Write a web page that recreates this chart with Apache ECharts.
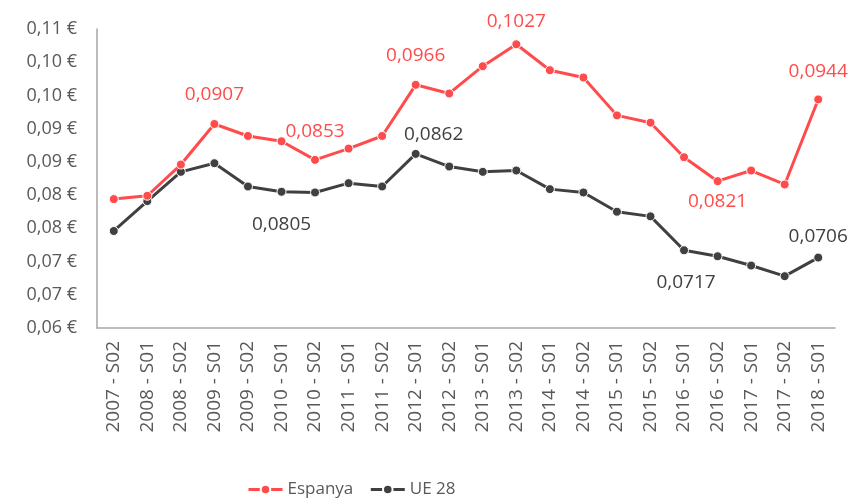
<!DOCTYPE html>
<html>
<head>
<meta charset="utf-8">
<script src="https://cdn.jsdelivr.net/npm/echarts@6/dist/echarts.min.js"></script>
<style>
html,body{margin:0;padding:0;background:#fff;}
#chart{width:851px;height:499px;}
</style>
</head>
<body>
<div id="chart"></div>
<script>
const categories = ['2007 - S02','2008 - S01','2008 - S02','2009 - S01','2009 - S02','2010 - S01','2010 - S02','2011 - S01','2011 - S02','2012 - S01','2012 - S02','2013 - S01','2013 - S02','2014 - S01','2014 - S02','2015 - S01','2015 - S02','2016 - S01','2016 - S02','2017 - S01','2017 - S02','2018 - S01'];
const espanya = [0.0794,0.0799,0.0846,0.0907,0.0889,0.0881,0.0853,0.0870,0.0889,0.0966,0.0953,0.0994,0.1027,0.0988,0.0977,0.0920,0.0909,0.0857,0.0821,0.0837,0.0816,0.0944];
const ue28 = [0.0746,0.0791,0.0835,0.0848,0.0813,0.0805,0.0804,0.0818,0.0813,0.0862,0.0843,0.0835,0.0837,0.0809,0.0804,0.0775,0.0768,0.0717,0.0708,0.0694,0.0678,0.0706];
const yTickLabels = ['0,06 €','0,07 €','0,07 €','0,08 €','0,08 €','0,09 €','0,09 €','0,10 €','0,10 €','0,11 €'];
const seriesNames = ['Espanya','UE 28'];

// label placement (layout only): index -> [dx, dy] pixel offset from the point
const espLabelPos = {3:[0,-29],6:[0,-28],9:[0,-29],12:[0,-23],18:[0,20],21:[0,-28]};
const ueLabelPos = {5:[0,33],9:[18,-19],17:[2,32],21:[0,-21]};

const RED = '#FF4B4B';
const DARK = '#404040';
const TEXT = '#595959';
const FONT = 'Open Sans';

function fmt(v){ return v.toFixed(4).replace('.', ','); }
function buildData(values, posMap, color){
  return values.map((v,i)=>{
    if(!posMap[i]) return v;
    return {value:v, label:{show:true, position:['50%','50%'], align:'center', verticalAlign:'middle',
      offset:posMap[i], color:color, fontSize:19, fontFamily:FONT, formatter:p=>fmt(p.value)}};
  });
}

const chart = echarts.init(document.getElementById('chart'), null, {renderer:'canvas'});
chart.setOption({
  animation:false,
  backgroundColor:'#fff',
  grid:{left:97,right:16,top:29,bottom:171,containLabel:false},
  legend:{
    left:242, top:476, itemWidth:34, itemHeight:12, itemGap:16,
    lineStyle:{width:3},
    textStyle:{fontFamily:FONT,fontSize:17,color:TEXT},
    data:seriesNames
  },
  xAxis:{
    type:'category', data:categories, boundaryGap:true,
    axisLine:{show:true,lineStyle:{color:'#A6A6A6',width:1.5}},
    axisTick:{show:false},
    axisLabel:{rotate:90, margin:13, fontFamily:FONT, fontSize:19, color:TEXT, interval:0}
  },
  yAxis:{
    type:'value', min:0.06, max:0.105, interval:0.005,
    splitLine:{show:false},
    axisLine:{show:true,lineStyle:{color:'#A6A6A6',width:1.5}},
    axisTick:{show:false},
    axisLabel:{margin:20, fontFamily:FONT, fontSize:18, color:TEXT,
      formatter:v=>yTickLabels[Math.round((v-0.06)/0.005)]}
  },
  series:[
    {name:seriesNames[0], type:'line', data:buildData(espanya, espLabelPos, RED),
     symbol:'circle', symbolSize:9, showAllSymbol:true,
     lineStyle:{color:RED,width:3}, itemStyle:{color:RED,borderColor:'#fff',borderWidth:1},
     label:{show:false}, z:3},
    {name:seriesNames[1], type:'line', data:buildData(ue28, ueLabelPos, DARK),
     symbol:'circle', symbolSize:9, showAllSymbol:true,
     lineStyle:{color:DARK,width:3}, itemStyle:{color:DARK,borderColor:'#fff',borderWidth:1},
     label:{show:false}, z:2}
  ]
});
</script>
</body>
</html>
